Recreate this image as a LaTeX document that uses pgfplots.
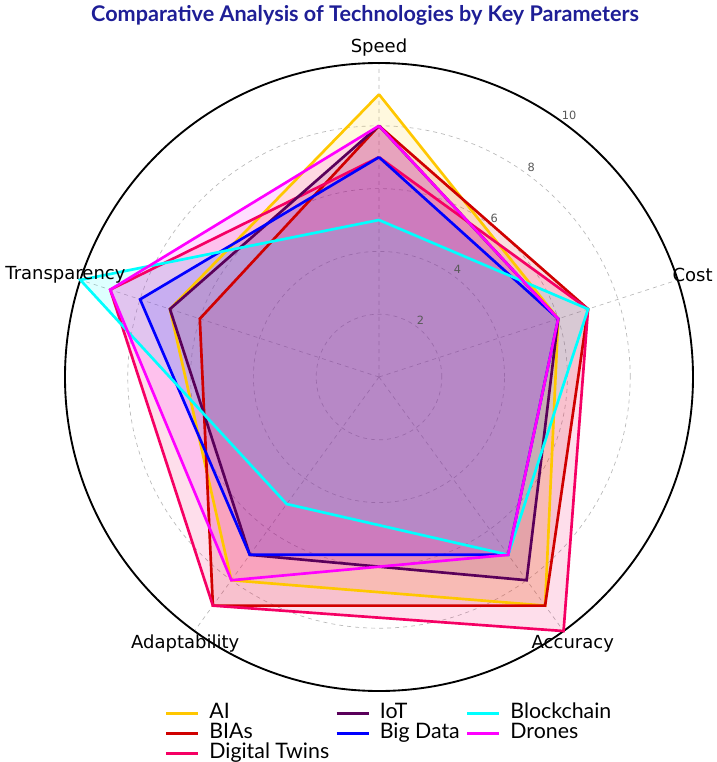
\documentclass[border=0pt]{standalone}
\usepackage{fontspec}
\setmainfont{Lato}
\newfontfamily\dejavu{DejaVu Sans}
\usepackage{pgfplots}
\usepackage{pgfplotstable}
\usepgfplotslibrary{polar}
\pgfplotsset{compat=1.18}

\definecolor{cAI}{RGB}{255,199,0}
\definecolor{cBIA}{RGB}{208,0,0}
\definecolor{cDT}{RGB}{245,0,100}
\definecolor{cIoT}{RGB}{90,0,90}
\definecolor{cBD}{RGB}{0,0,255}
\definecolor{cBC}{RGB}{0,255,255}
\definecolor{cDR}{RGB}{255,0,255}
\definecolor{ctitle}{RGB}{30,30,150}

% Speed, Cost, Accuracy, Adaptability, Transparency (closed polygon)
\pgfplotstableread{
ang  AI  BIAs DT  IoT BD  BC  DR
90   9   8    7   8   7   5   8
18   6   7    7   6   6   7   6
306  9   9    10  8   7   7   7
234  8   9    9   7   7   5   8
162  7   6    9   7   8   10  9
90   9   8    7   8   7   5   8
}\radar

\begin{document}
\begin{tikzpicture}
\path[use as bounding box] (-284.25pt,-288.75pt) rectangle (252.75pt,282.75pt);
\begin{polaraxis}[
    at={(0,0)}, anchor=center,
    width=471pt, height=471pt, scale only axis,
    ymin=0, ymax=10,
    xtick={18,90,162,234,306},
    xticklabels={},
    ytick={2,4,6,8,10},
    yticklabels={},
    xmajorgrids, ymajorgrids,
    major grid style={black!28, dashed, line width=0.5pt},
    axis line style={black, line width=1.4pt},
    y axis line style={draw=none},
    major tick length=0pt,
    clip=false,
    legend columns=3,
    legend cell align=left,
    legend image code/.code={\draw[#1] (0pt,0pt) -- (24pt,0pt);},
    legend style={at={(0.5,0)}, anchor=north, xshift=7pt, yshift=-9pt,
      draw=none, fill=none, inner sep=0pt,
      font=\fontsize{16}{15}\selectfont, row sep=0pt,
      nodes={inner sep=0.5pt, text height=11pt, text depth=3pt},
      /tikz/every odd column/.append style={column sep=7pt},
      /tikz/every even column/.append style={column sep=4pt}},
  ]
  % fills first
  \addplot[draw=none, fill=cAI, fill opacity=0.13, forget plot] table[x=ang, y=AI] {\radar};
  \addplot[draw=none, fill=cBIA, fill opacity=0.13, forget plot] table[x=ang, y=BIAs] {\radar};
  \addplot[draw=none, fill=cDT, fill opacity=0.13, forget plot] table[x=ang, y=DT] {\radar};
  \addplot[draw=none, fill=cIoT, fill opacity=0.13, forget plot] table[x=ang, y=IoT] {\radar};
  \addplot[draw=none, fill=cBD, fill opacity=0.13, forget plot] table[x=ang, y=BD] {\radar};
  \addplot[draw=none, fill=cBC, fill opacity=0.13, forget plot] table[x=ang, y=BC] {\radar};
  \addplot[draw=none, fill=cDR, fill opacity=0.13, forget plot] table[x=ang, y=DR] {\radar};
  % outlines
  \addplot[cAI, line width=2pt, forget plot] table[x=ang, y=AI] {\radar};
  \addplot[cBIA, line width=2pt, forget plot] table[x=ang, y=BIAs] {\radar};
  \addplot[cDT, line width=2pt, forget plot] table[x=ang, y=DT] {\radar};
  \addplot[cIoT, line width=2pt, forget plot] table[x=ang, y=IoT] {\radar};
  \addplot[cBD, line width=2pt, forget plot] table[x=ang, y=BD] {\radar};
  \addplot[cBC, line width=2pt, forget plot] table[x=ang, y=BC] {\radar};
  \addplot[cDR, line width=2pt, forget plot] table[x=ang, y=DR] {\radar};

  % legend in column order
  \addlegendimage{cAI, line width=2pt}\addlegendentry{AI}
  \addlegendimage{cIoT, line width=2pt}\addlegendentry{IoT}
  \addlegendimage{cBC, line width=2pt}\addlegendentry{Blockchain}
  \addlegendimage{cBIA, line width=2pt}\addlegendentry{BIAs}
  \addlegendimage{cBD, line width=2pt}\addlegendentry{Big Data}
  \addlegendimage{cDR, line width=2pt}\addlegendentry{Drones}
  \addlegendimage{cDT, line width=2pt}\addlegendentry{Digital Twins}

  % category labels
  \node[font=\dejavu\fontsize{13.5}{16}\selectfont] at (axis cs:90,10.5) {Speed};
  \node[font=\dejavu\fontsize{13.5}{16}\selectfont] at (axis cs:18,10.5) {Cost};
  \node[font=\dejavu\fontsize{13.5}{16}\selectfont] at (axis cs:306,10.5) {Accuracy};
  \node[font=\dejavu\fontsize{13.5}{16}\selectfont] at (axis cs:234,10.5) {Adaptability};
  \node[font=\dejavu\fontsize{13.5}{16}\selectfont] at (axis cs:162,10.5) {Transparency};

  % radial tick labels
  \node[font=\dejavu\fontsize{8.5}{9}\selectfont, text=black!65] at (axis cs:54,2.25) {2};
  \node[font=\dejavu\fontsize{8.5}{9}\selectfont, text=black!65] at (axis cs:54,4.25) {4};
  \node[font=\dejavu\fontsize{8.5}{9}\selectfont, text=black!65] at (axis cs:54,6.25) {6};
  \node[font=\dejavu\fontsize{8.5}{9}\selectfont, text=black!65] at (axis cs:54,8.25) {8};
  \node[font=\dejavu\fontsize{8.5}{9}\selectfont, text=black!65] at (axis cs:54,10.3) {10};
\end{polaraxis}
\node[font=\bfseries\fontsize{16.2}{18}\selectfont, text=ctitle] at (-10.5pt,271.5pt)
  {Comparative Analysis of Technologies by Key Parameters};
\end{tikzpicture}
\end{document}
